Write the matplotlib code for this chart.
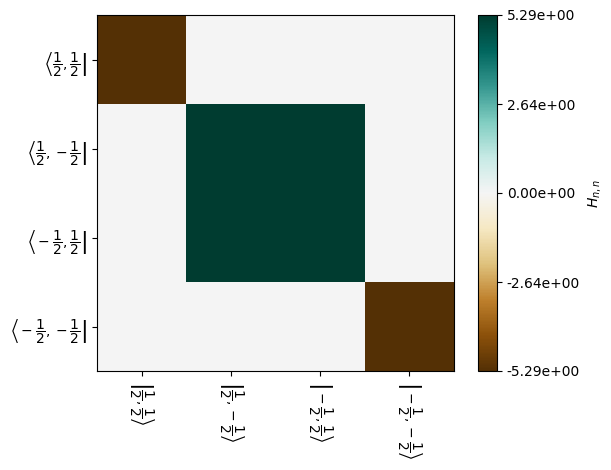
import numpy as np
import matplotlib
matplotlib.use("Agg")
import matplotlib.pyplot as plt

# basis state labels
bras = [r"$\left\langle\dfrac{1}{2}, \dfrac{1}{2}\right|$",
        r"$\left\langle\dfrac{1}{2}, -\dfrac{1}{2}\right|$",
        r"$\left\langle-\dfrac{1}{2}, \dfrac{1}{2}\right|$",
        r"$\left\langle-\dfrac{1}{2}, -\dfrac{1}{2}\right|$"]
kets = [r"$\left|\dfrac{1}{2}, \dfrac{1}{2}\right\rangle$",
        r"$\left|\dfrac{1}{2}, -\dfrac{1}{2}\right\rangle$",
        r"$\left|-\dfrac{1}{2}, \dfrac{1}{2}\right\rangle$",
        r"$\left|-\dfrac{1}{2}, -\dfrac{1}{2}\right\rangle$"]

vmax = 5.288
row0 = [-5.288, 0.0, 0.0, 0.0]
row1 = [0.0, 5.288, 5.288, 0.0]
row2 = [0.0, 5.288, 5.288, 0.0]
row3 = [0.0, 0.0, 0.0, -5.288]
H = np.array([row0, row1, row2, row3])

fig = plt.figure(figsize=(6.11, 4.70), dpi=100)
W, Hp = 611, 470
ax = fig.add_axes([97 / W, (Hp - 371) / Hp, 357 / W, 356 / Hp])
cax = fig.add_axes([478 / W, (Hp - 371) / Hp, 19 / W, 356 / Hp])

im = ax.imshow(H, cmap="BrBG", vmin=-vmax, vmax=vmax, aspect="auto")
ax.set_xticks(range(4))
ax.set_xticklabels(kets, rotation=270)
ax.set_yticks(range(4))
ax.set_yticklabels(bras)

cb = fig.colorbar(im, cax=cax, ticks=np.linspace(-vmax, vmax, 5), format="%.2e")
cb.set_label(r"$H_{n,n}$")

fig.savefig("out.png", dpi=100)
